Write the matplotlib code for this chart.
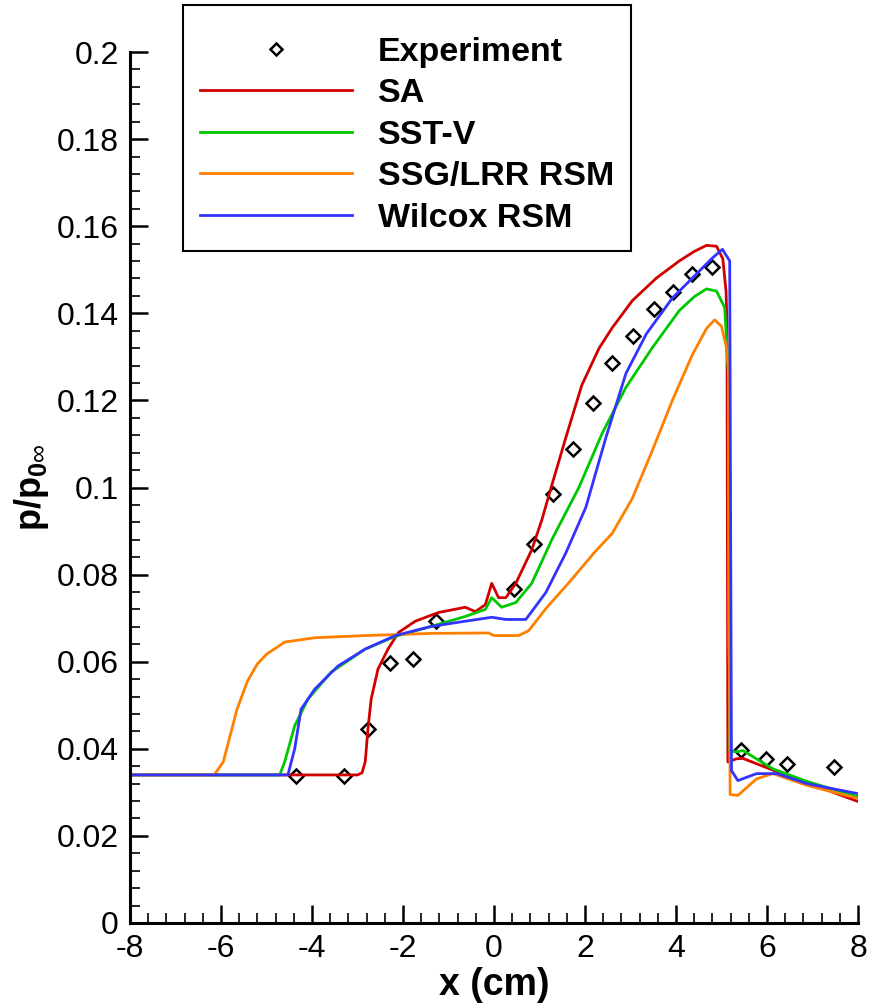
import matplotlib
matplotlib.use('Agg')
import matplotlib.pyplot as plt
from matplotlib.ticker import MultipleLocator

plt.rcParams['font.family'] = ['Liberation Sans', 'DejaVu Sans']
plt.rcParams['mathtext.fontset'] = 'custom'
plt.rcParams['mathtext.rm'] = 'Liberation Sans'
plt.rcParams['mathtext.bf'] = 'Liberation Sans:bold'
plt.rcParams['axes.unicode_minus'] = False

# Experiment
x_exp = [-4.36, -3.30, -2.77, -2.28, -1.77, -1.27, 0.45, 0.87, 1.29, 1.74, 2.18,
         2.60, 3.06, 3.52, 3.94, 4.36, 4.80, 5.42, 5.97, 6.44, 7.47]
y_exp = [0.0338, 0.0338, 0.0446, 0.0597, 0.0606, 0.0693, 0.0766, 0.0871, 0.0985, 0.1088, 0.1195,
         0.1285, 0.1349, 0.1410, 0.1449, 0.1490, 0.1506, 0.0398, 0.0377, 0.0366, 0.0359]

# SA
x_sa = [-8, -3.0, -2.9, -2.83, -2.77, -2.7, -2.55, -2.33, -2.1, -1.73, -1.22, -0.63, -0.41,
        -0.19, -0.05, 0.1, 0.26, 0.48, 0.83, 1.05, 1.27, 1.58, 1.93, 2.31, 2.6, 3.04, 3.57, 4.07,
        4.4, 4.67, 4.89, 5.03, 5.1, 5.12, 5.14, 5.33, 5.47, 6.13, 6.88, 8.0]
y_sa = [0.034, 0.034, 0.0345, 0.037, 0.0446, 0.0514, 0.0583, 0.0629, 0.0667, 0.0693, 0.0713,
        0.0725, 0.0715, 0.0731, 0.078, 0.0747, 0.0747, 0.078, 0.0857, 0.0925, 0.1005, 0.1115,
        0.1235, 0.132, 0.1367, 0.1429, 0.1481, 0.152, 0.1542, 0.1556, 0.1554, 0.1525, 0.145,
        0.138, 0.037, 0.0377, 0.0378, 0.0351, 0.0322, 0.0279]

# SST-V
x_sst = [-8, -4.71, -4.6, -4.38, -4.09, -3.58, -2.83, -2.17, -1.38, -0.63, -0.19, -0.05, 0.17,
         0.48, 0.83, 1.27, 1.87, 2.38, 2.9, 3.48, 4.07, 4.4, 4.67, 4.89, 5.07, 5.16, 5.18, 5.33,
         5.47, 6.13, 6.88, 8.0]
y_sst = [0.034, 0.034, 0.037, 0.0453, 0.0514, 0.0576, 0.0629, 0.0658, 0.0681, 0.0704, 0.072,
         0.0747, 0.0725, 0.0736, 0.078, 0.088, 0.1001, 0.1125, 0.123, 0.1321, 0.1406, 0.1438,
         0.1456, 0.1451, 0.1413, 0.125, 0.0395, 0.0393, 0.0396, 0.0354, 0.0325, 0.029]

# SSG/LRR RSM
x_ssg = [-8, -6.15, -5.95, -5.8, -5.65, -5.42, -5.2, -5.0, -4.6, -3.94, -2.83, -1.38, -0.12,
         0.0, 0.54, 0.76, 1.14, 1.65, 2.2, 2.6, 3.04, 3.48, 3.92, 4.36, 4.67, 4.85, 5.0, 5.1,
         5.15, 5.16, 5.17, 5.19, 5.36, 5.77, 6.13, 6.88, 8.0]
y_ssg = [0.034, 0.034, 0.037, 0.043, 0.049, 0.0555, 0.0595, 0.0617, 0.0645, 0.0655, 0.066,
         0.0665, 0.0666, 0.066, 0.066, 0.0671, 0.0722, 0.0782, 0.085, 0.0895, 0.0975, 0.1085,
         0.12, 0.1305, 0.1365, 0.1385, 0.137, 0.1325, 0.128, 0.065, 0.06, 0.0295, 0.0293,
         0.0331, 0.0343, 0.0316, 0.0286]

# Wilcox RSM
x_wil = [-8, -4.53, -4.38, -4.24, -3.94, -3.43, -2.83, -2.17, -1.38, -0.63, -0.05, 0.26, 0.70,
         1.14, 1.58, 2.02, 2.46, 2.9, 3.35, 3.92, 4.36, 4.8, 5.02, 5.18, 5.22, 5.36, 5.77,
         6.22, 6.88, 8.0]
y_wil = [0.034, 0.034, 0.040, 0.0491, 0.0537, 0.059, 0.0629, 0.066, 0.0681, 0.0693, 0.0702,
         0.0697, 0.0697, 0.0759, 0.085, 0.0955, 0.1115, 0.1262, 0.1353, 0.1435, 0.1481, 0.1527,
         0.1547, 0.152, 0.035, 0.0327, 0.0343, 0.0343, 0.032, 0.0297]

fig = plt.figure(figsize=(8.71, 10.07), dpi=100)
ax = fig.add_axes([130 / 871, 1 - 923 / 1007, 728 / 871, 871 / 1007])

lw = 2.0
ax.plot(x_exp, y_exp, linestyle='none', marker='D', markersize=7.5, markerfacecolor='none',
        markeredgecolor='black', markeredgewidth=1.8, label='Experiment')
ax.plot(x_sa, y_sa, color='#d10000', lw=lw, label='SA')
ax.plot(x_sst, y_sst, color='#00c800', lw=lw, label='SST-V')
ax.plot(x_ssg, y_ssg, color='#ff8000', lw=lw, label='SSG/LRR RSM')
ax.plot(x_wil, y_wil, color='#3333ff', lw=lw, label='Wilcox RSM')

ax.set_xlim(-8, 8)
ax.set_ylim(0, 0.2)
ax.xaxis.set_major_locator(MultipleLocator(2))
ax.xaxis.set_minor_locator(MultipleLocator(0.4))
ax.yaxis.set_minor_locator(MultipleLocator(0.004))
ax.set_yticks([0, 0.02, 0.04, 0.06, 0.08, 0.1, 0.12, 0.14, 0.16, 0.18, 0.2])
ax.set_yticklabels(['0', '0.02', '0.04', '0.06', '0.08', '0.1', '0.12', '0.14', '0.16', '0.18', '0.2'])

ax.spines['top'].set_visible(False)
ax.spines['right'].set_visible(False)
ax.spines['left'].set_linewidth(2.2)
ax.spines['bottom'].set_linewidth(2.2)
ax.tick_params(which='major', direction='in', length=13, width=1.8, labelsize=23, pad=8)
ax.tick_params(which='minor', direction='in', length=7, width=1.2)

ax.set_xlabel('x (cm)', fontsize=27, fontweight='bold', labelpad=2)
ax.set_ylabel(r'p/p$_{\mathbf{0}\infty}$', fontsize=26, fontweight='bold', labelpad=4)

# small empty title just to leave the extra room above the first row
leg = ax.legend(loc='upper left', bbox_to_anchor=(183 / 871, 1 - 5 / 1007),
                bbox_transform=fig.transFigure, borderaxespad=0, fancybox=False,
                framealpha=1, edgecolor='black', prop={'weight': 'bold', 'size': 24.5},
                handlelength=4.47, handletextpad=0.76, labelspacing=0.31, borderpad=0.5,
                markerscale=0.75, title=' ', title_fontsize=2)
leg.get_frame().set_linewidth(1.5)

fig.savefig('out.png', dpi=100)
